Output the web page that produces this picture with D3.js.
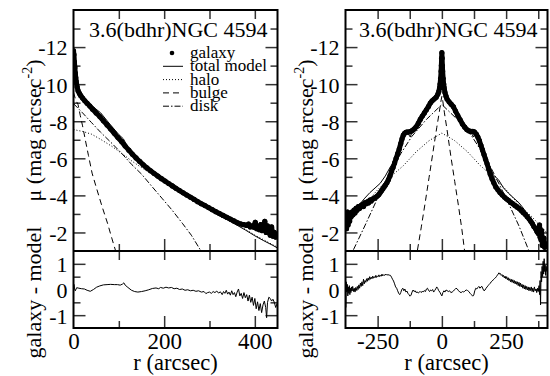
<!DOCTYPE html>
<html>
<head>
<meta charset="utf-8">
<script src="https://cdn.jsdelivr.net/npm/d3@7"></script>
<style>
  body { margin: 0; background: #fff; }
  .tick line { stroke: #333; stroke-width: 1.5; }
  .tick text { fill: #000; }
</style>
</head>
<body>
<div class="chart"></div>
<script>
// ---- data: [r (arcsec), mu] ----
const titleText = '3.6(bdhr)NGC 4594';
const legendNames = ['galaxy', 'total model', 'halo', 'bulge', 'disk'];

// left panel (radial profile)
const leftGalaxy = [
  [0, -11.8], [1, -11.6], [2, -11.2], [3, -10.9], [4, -10.6], [5, -10.35], [6, -10.15], [8, -9.85],
  [10, -9.65], [13, -9.5], [16, -9.38], [20, -9.25], [25, -9.1], [30, -8.97], [36, -8.82], [42, -8.65],
  [50, -8.45], [58, -8.25], [66, -8.02], [74, -7.8], [82, -7.58], [90, -7.35], [98, -7.12], [106, -6.9],
  [114, -6.66], [122, -6.44], [130, -6.22], [138, -6.02], [146, -5.83], [154, -5.65], [162, -5.48],
  [170, -5.33], [178, -5.18], [186, -5.04], [194, -4.9], [202, -4.77], [210, -4.64], [218, -4.51],
  [226, -4.38], [234, -4.26], [242, -4.14], [250, -4.02], [258, -3.9], [266, -3.78], [274, -3.66],
  [282, -3.55], [290, -3.45], [298, -3.34], [306, -3.23], [314, -3.12], [322, -3.02], [330, -2.92],
  [338, -2.82], [346, -2.72], [354, -2.62], [362, -2.52], [370, -2.45], [376, -2.42], [382, -2.38],
  [386, -2.45], [390, -2.3], [394, -2.36], [398, -2.28], [401, -2.55], [404, -2.2], [407, -2.3],
  [410, -2.15], [413, -2.42], [416, -2.1], [419, -2.25], [422, -2.6], [425, -2.0], [428, -2.35],
  [431, -2.05], [434, -1.85], [437, -2.3], [440, -1.8], [443, -2.0], [446, -1.75]
];
const leftModel = [
  [0, -11.75], [2, -11.15], [5, -10.3], [10, -9.6], [20, -9.28], [30, -9.0], [40, -8.85], [60, -8.45],
  [80, -7.85], [100, -7.28], [110, -7.05], [120, -6.6], [140, -5.96], [160, -5.52], [180, -5.17],
  [200, -4.85], [220, -4.55], [240, -4.22], [260, -3.9], [280, -3.56], [300, -3.22], [320, -2.93],
  [340, -2.67], [360, -2.4], [380, -2.12], [400, -1.82], [420, -1.55], [440, -1.3], [450, -1.16]
];
const leftHalo = [
  [0, -7.55], [20, -7.45], [40, -7.3], [60, -7.02], [85, -6.64], [110, -6.2], [130, -5.83], [150, -5.5],
  [175, -5.12], [200, -4.78], [240, -4.2], [280, -3.62], [320, -3.05], [360, -2.45], [400, -1.86], [450, -1.2]
];
const leftBulge = [
  [0, -9.55], [3, -9.3], [6, -9.1], [10, -8.9], [15, -8.3], [20, -7.75], [26, -7.0], [33, -6.15],
  [41, -5.2], [50, -4.45], [63, -3.4], [75, -2.5], [85, -1.65], [93, -1.0]
];
const leftDisk = [
  [0, -8.95], [20, -8.45], [40, -7.92], [60, -7.4], [85, -6.8], [105, -6.3], [129, -5.65], [150, -5.15],
  [173, -4.48], [195, -3.85], [217, -3.22], [240, -2.5], [260, -1.85], [280, -1.05]
];
const leftResid = [
  [0, -0.15], [1, 0.2], [2, 0.05], [4, -0.05], [7, 0.07], [12, 0.05], [18, 0.03], [24, 0.02], [30, -0.03],
  [37, -0.07], [44, 0.0], [51, 0.09], [58, 0.14], [66, 0.18], [74, 0.19], [82, 0.2], [90, 0.19], [97, 0.19],
  [103, 0.17], [108, 0.21], [111, 0.26], [114, 0.17], [120, 0.08], [128, -0.03], [135, -0.08], [142, -0.1],
  [150, -0.08], [158, -0.05], [166, -0.01], [174, 0.04], [182, 0.06], [188, 0.03], [192, 0.08], [198, 0.05],
  [204, 0.09], [210, 0.06], [216, 0.08], [222, 0.03], [228, 0.05], [234, 0.0], [240, 0.02], [246, -0.03],
  [252, -0.01], [258, -0.05], [264, -0.03], [270, -0.07], [276, -0.05], [282, -0.1], [288, -0.08],
  [292, -0.16], [296, -0.12], [300, -0.1], [304, -0.15], [308, -0.08], [312, -0.12], [316, -0.06],
  [320, -0.14], [324, -0.09], [328, -0.2], [331, -0.08], [334, -0.15], [337, -0.03], [340, -0.18],
  [343, -0.1], [346, -0.22], [349, -0.05], [352, -0.2], [355, -0.12], [358, -0.28], [361, -0.1],
  [364, 0.02], [367, -0.25], [370, -0.15], [373, -0.35], [376, -0.12], [379, -0.32], [382, -0.2],
  [385, -0.45], [388, -0.22], [391, -0.5], [394, -0.3], [397, -0.62], [400, -0.35], [403, -0.75],
  [406, -0.48], [409, -0.82], [412, -0.55], [415, -0.9], [418, -0.6], [421, -0.45], [424, -0.7],
  [426, -1.1], [428, -0.5], [431, -0.3], [434, -0.35], [437, -0.45], [440, -0.38], [443, -0.5],
  [446, -0.7], [449, -0.55]
];

// right panel (major-axis cut)
const rightGalaxy = [
  [-375, -2.5], [-373, -2.9], [-371, -2.2], [-369, -2.7], [-367, -3.1], [-365, -2.4], [-362, -2.8],
  [-359, -2.6], [-356, -3.0], [-353, -2.85], [-350, -3.1], [-346, -2.95], [-342, -3.2], [-338, -3.05],
  [-334, -3.3], [-330, -3.2], [-325, -3.4], [-320, -3.3], [-315, -3.45], [-310, -3.5], [-305, -3.4],
  [-300, -3.6], [-295, -3.55], [-290, -3.65], [-285, -3.6], [-280, -3.75], [-275, -3.7], [-270, -3.8],
  [-265, -3.82], [-260, -3.88], [-255, -3.92], [-250, -3.98], [-245, -4.05], [-240, -4.15], [-235, -4.25],
  [-230, -4.35], [-225, -4.45], [-220, -4.55], [-214, -4.68], [-208, -4.85], [-202, -5.05], [-196, -5.3],
  [-190, -5.5], [-184, -5.75], [-178, -6.0], [-172, -6.25], [-166, -6.5], [-160, -6.8], [-155, -7.05],
  [-150, -7.25], [-145, -7.35], [-140, -7.4], [-135, -7.42], [-128, -7.42], [-121, -7.45], [-115, -7.5],
  [-108, -7.58], [-100, -7.7], [-92, -7.88], [-84, -8.1], [-76, -8.28], [-68, -8.45], [-60, -8.62],
  [-52, -8.8], [-45, -8.98], [-38, -9.1], [-30, -9.2], [-22, -9.3], [-16, -9.45], [-12, -9.6], [-9, -9.8],
  [-7, -10.0], [-5, -10.3], [-3, -10.7], [-2, -11.0], [-1, -11.4], [0, -11.7], [1, -11.4], [2, -11.0],
  [3, -10.7], [5, -10.3], [7, -10.0], [9, -9.8], [12, -9.55], [16, -9.35], [20, -9.2], [28, -9.05],
  [36, -8.92], [45, -8.78], [53, -8.55], [62, -8.3], [71, -8.08], [80, -7.85], [89, -7.68], [97, -7.55],
  [105, -7.48], [113, -7.45], [120, -7.45], [127, -7.42], [134, -7.3], [140, -7.15], [146, -6.95],
  [152, -6.7], [158, -6.45], [164, -6.2], [170, -5.95], [176, -5.7], [182, -5.42], [188, -5.15],
  [195, -4.9], [202, -4.68], [210, -4.45], [218, -4.3], [226, -4.15], [235, -4.02], [244, -3.9],
  [252, -3.8], [260, -3.72], [268, -3.62], [276, -3.55], [284, -3.46], [292, -3.38], [300, -3.3],
  [308, -3.2], [316, -3.08], [324, -2.98], [332, -2.85], [340, -2.72], [346, -2.6], [352, -2.48],
  [358, -2.32], [364, -2.22], [370, -2.05], [375, -1.95], [380, -2.4], [382, -1.75], [386, -1.6],
  [388, -2.1], [391, -1.3], [394, -1.45], [397, -1.7], [400, -1.2], [403, -1.4]
];
const rightModel = [
  [-375, -2.5], [-355, -2.95], [-335, -3.25], [-315, -3.6], [-300, -3.85], [-280, -4.15], [-260, -4.4],
  [-240, -4.65], [-220, -5.05], [-200, -5.55], [-185, -5.85], [-170, -6.35], [-160, -6.8], [-150, -7.2],
  [-140, -7.38], [-130, -7.3], [-123, -7.15], [-115, -7.45], [-100, -7.7], [-80, -8.2], [-60, -8.6],
  [-40, -9.05], [-20, -9.4], [-10, -9.7], [-5, -10.3], [-2, -11.0], [0, -11.5], [2, -11.0], [5, -10.3],
  [10, -9.7], [20, -9.25], [40, -8.85], [60, -8.4], [80, -7.85], [100, -7.5], [115, -7.35], [123, -7.15],
  [130, -7.35], [140, -7.2], [150, -6.85], [160, -6.45], [170, -6.05], [185, -5.6], [200, -5.1],
  [220, -4.85], [240, -4.4], [260, -4.1], [280, -3.85], [300, -3.6], [320, -3.25], [340, -2.85],
  [360, -2.38], [380, -1.95], [400, -1.5], [411, -1.35]
];
const rightHalo = [
  [-375, -2.5], [-350, -2.85], [-300, -3.5], [-250, -4.3], [-200, -5.0], [-150, -5.6], [-100, -6.35],
  [-50, -6.95], [0, -7.36], [50, -6.95], [100, -6.35], [150, -5.6], [200, -5.0], [250, -4.3],
  [300, -3.5], [350, -2.85], [411, -1.95]
];
const rightBulge = [
  [-95, -1.05], [-80, -2.3], [-65, -3.6], [-50, -4.95], [-35, -6.3], [-20, -7.65], [-10, -8.5], [-4, -9.05],
  [0, -9.35], [4, -9.05], [10, -8.45], [20, -7.55], [35, -6.1], [50, -4.75], [65, -3.4], [78, -2.15], [88, -1.05]
];
const rightDisk = [
  [-344, -1.07], [-300, -2.35], [-250, -3.85], [-195, -5.38], [-160, -6.25], [-117, -7.18], [-60, -8.1],
  [0, -8.9], [60, -8.1], [117, -7.18], [160, -6.25], [195, -5.38], [250, -3.85], [300, -2.35], [337, -1.07]
];
const rightResid = [
  [-375, 0.05], [-374, -0.7], [-372, 0.3], [-370, -0.1], [-368, 0.2], [-366, -0.25], [-364, 0.1],
  [-362, -0.15], [-360, 0.15], [-358, -0.2], [-356, 0.05], [-354, -0.12], [-352, 0.1], [-350, -0.05],
  [-347, 0.12], [-344, -0.08], [-341, 0.05], [-338, -0.1], [-335, 0.08], [-332, -0.02], [-329, 0.12],
  [-326, 0.0], [-323, 0.18], [-320, 0.05], [-317, 0.25], [-314, 0.12], [-311, 0.3], [-308, 0.15],
  [-305, 0.4], [-302, 0.22], [-299, 0.35], [-296, 0.28], [-293, 0.42], [-290, 0.32], [-287, 0.45],
  [-284, 0.36], [-281, 0.5], [-278, 0.4], [-275, 0.48], [-272, 0.42], [-269, 0.52], [-266, 0.44],
  [-263, 0.5], [-260, 0.46], [-257, 0.55], [-254, 0.47], [-251, 0.53], [-248, 0.5], [-245, 0.57],
  [-242, 0.5], [-239, 0.55], [-236, 0.52], [-233, 0.6], [-230, 0.53], [-226, 0.58], [-222, 0.55],
  [-218, 0.6], [-214, 0.56], [-210, 0.58], [-205, 0.56], [-200, 0.55], [-196, 0.48], [-192, 0.4],
  [-188, 0.33], [-184, 0.22], [-180, 0.1], [-176, 0.05], [-172, -0.05], [-168, -0.15], [-164, -0.2],
  [-160, -0.12], [-156, 0.0], [-152, 0.05], [-148, -0.05], [-144, 0.02], [-140, -0.1], [-136, -0.06],
  [-132, -0.15], [-128, -0.2], [-124, -0.26], [-120, -0.22], [-116, -0.1], [-112, -0.02], [-108, -0.08],
  [-104, -0.05], [-100, -0.12], [-96, -0.09], [-92, -0.14], [-88, -0.1], [-84, -0.08], [-80, -0.12],
  [-76, -0.06], [-72, -0.1], [-68, -0.04], [-64, -0.08], [-60, 0.02], [-56, 0.05], [-52, -0.03],
  [-48, -0.08], [-44, -0.02], [-40, -0.05], [-36, 0.0], [-32, -0.1], [-28, -0.04], [-24, 0.02],
  [-20, 0.1], [-16, 0.04], [-12, -0.05], [-8, -0.1], [-4, -0.18], [0, -0.25], [4, -0.12], [8, -0.05],
  [12, -0.1], [16, -0.02], [20, -0.04], [25, -0.08], [30, -0.05], [35, -0.12], [40, -0.1], [45, -0.06],
  [50, 0.0], [55, 0.05], [60, 0.02], [65, -0.05], [70, -0.1], [75, -0.12], [80, -0.08], [85, -0.1],
  [90, -0.05], [95, -0.02], [100, -0.04], [105, -0.08], [110, -0.15], [115, -0.2], [120, -0.26],
  [124, -0.22], [128, -0.05], [132, 0.05], [136, 0.02], [140, 0.08], [144, 0.12], [148, 0.05],
  [152, 0.1], [156, 0.12], [160, 0.02], [164, -0.05], [168, -0.02], [172, 0.05], [176, 0.1], [180, 0.15],
  [184, 0.2], [188, 0.24], [192, 0.3], [196, 0.33], [200, 0.38], [204, 0.42], [208, 0.45], [212, 0.5],
  [216, 0.56], [219, 0.6], [222, 0.65], [225, 0.6], [228, 0.62], [231, 0.55], [234, 0.58], [237, 0.5],
  [240, 0.55], [243, 0.45], [246, 0.52], [249, 0.42], [252, 0.5], [255, 0.38], [258, 0.46], [261, 0.35],
  [264, 0.42], [267, 0.3], [270, 0.4], [273, 0.28], [276, 0.38], [279, 0.25], [282, 0.35], [285, 0.22],
  [288, 0.32], [291, 0.2], [294, 0.3], [297, 0.15], [300, 0.28], [303, 0.12], [306, 0.25], [309, 0.1],
  [312, 0.2], [315, 0.05], [318, 0.18], [321, 0.02], [324, 0.15], [327, 0.0], [330, 0.12], [333, -0.02],
  [336, 0.1], [339, -0.05], [342, 0.08], [345, -0.04], [348, 0.1], [351, -0.08], [354, 0.05], [357, -0.1],
  [360, 0.1], [363, -0.05], [366, 0.02], [369, -0.12], [372, 0.05], [375, -0.08], [378, 0.15],
  [380, -0.2], [382, 0.35], [384, -0.6], [386, 0.7], [388, 0.3], [390, 0.9], [392, 0.5], [394, 1.1],
  [396, 0.6], [398, 1.2], [400, 0.7], [402, 0.95], [404, 0.55], [406, 0.9], [408, 0.7]
];

// ---- layout ----
const width = 550;
const height = 376;
const yTop = 10, yMid = 251, yBottom = 328;
const serif = '"Liberation Serif", "Times New Roman", "DejaVu Serif", serif';

const panels = [
  {
    x0: 73.5, x1: 277.5, xDomain: [0, 450],
    xMajor: [0, 200, 400], xMinor: [100, 300],
    galaxy: leftGalaxy, model: leftModel, halo: leftHalo, bulge: leftBulge, disk: leftDisk,
    resid: leftResid, legend: true
  },
  {
    x0: 345.5, x1: 547.5, xDomain: [-375, 411],
    xMajor: [-250, 0, 250], xMinor: [-375, -125, 125, 375],
    galaxy: rightGalaxy, model: rightModel, halo: rightHalo, bulge: rightBulge, disk: rightDisk,
    resid: rightResid, legend: false
  }
];

const muMajor = [-12, -10, -8, -6, -4, -2];
const muMinor = [-13, -11, -9, -7, -5, -3];
const resMajor = [-1, 0, 1];
const resMinor = [-0.5, 0.5];

const svg = d3.select('.chart')
  .append('svg')
  .attr('width', width)
  .attr('height', height);

const yMain = d3.scaleLinear().domain([-1, -14]).range([yMid, yTop]);
const yRes = d3.scaleLinear().domain([-1.5, 1.5]).range([yBottom, yMid]);

// inward ticks on all four sides
function frameAxes(g, x, y, majorX, minorX, majorY, minorY, y0, y1, showX) {
  const fmt = d => String(d);
  g.append('g').attr('transform', `translate(${x.range()[0]},0)`)
    .call(d3.axisLeft(y).tickValues(majorY).tickSize(-12).tickPadding(6).tickFormat(fmt))
    .call(a => a.selectAll('text').attr('font-size', 22).attr('dy', '0.36em'));
  g.append('g').attr('transform', `translate(${x.range()[0]},0)`)
    .call(d3.axisLeft(y).tickValues(minorY).tickSize(-7).tickFormat(''));
  g.append('g').attr('transform', `translate(${x.range()[1]},0)`)
    .call(d3.axisRight(y).tickValues(majorY).tickSize(-12).tickFormat(''));
  g.append('g').attr('transform', `translate(${x.range()[1]},0)`)
    .call(d3.axisRight(y).tickValues(minorY).tickSize(-7).tickFormat(''));
  g.append('g').attr('transform', `translate(0,${y0})`)
    .call(d3.axisTop(x).tickValues(majorX.concat(minorX)).tickSize(-9).tickFormat(''));
  const b = g.append('g').attr('transform', `translate(0,${y1})`)
    .call(d3.axisBottom(x).tickValues(majorX).tickSize(-12).tickPadding(5).tickFormat(showX ? fmt : ''));
  b.selectAll('text').attr('font-size', 23);
  g.append('g').attr('transform', `translate(0,${y1})`)
    .call(d3.axisBottom(x).tickValues(minorX).tickSize(-7).tickFormat(''));
  g.selectAll('.domain').remove();
  g.selectAll('.tick line').filter(d => d === x.domain()[0] || d === x.domain()[1]).remove();
}

panels.forEach((p, i) => {
  const x = d3.scaleLinear().domain(p.xDomain).range([p.x0, p.x1]);
  const g = svg.append('g');

  const clipId = 'clip' + i;
  const defs = svg.append('defs');
  defs.append('clipPath').attr('id', clipId + 'a')
    .append('rect').attr('x', p.x0).attr('y', yTop).attr('width', p.x1 - p.x0).attr('height', yMid - yTop);
  defs.append('clipPath').attr('id', clipId + 'b')
    .append('rect').attr('x', p.x0).attr('y', yMid).attr('width', p.x1 - p.x0).attr('height', yBottom - yMid);

  frameAxes(g, x, yMain, p.xMajor, p.xMinor, muMajor, muMinor, yTop, yMid, false);
  frameAxes(g, x, yRes, p.xMajor, p.xMinor, resMajor, resMinor, yMid, yBottom, true);

  const line = d3.line().x(d => x(d[0])).y(d => yMain(d[1]));
  const plot = g.append('g').attr('clip-path', `url(#${clipId}a)`);

  const comps = [
    { data: p.halo, dash: '1,2' },
    { data: p.bulge, dash: '6,4' },
    { data: p.disk, dash: '6,2,1.5,2' }
  ];
  comps.forEach(c => {
    plot.append('path').datum(c.data)
      .attr('d', line).attr('fill', 'none')
      .attr('stroke', '#000').attr('stroke-width', 1)
      .attr('stroke-dasharray', c.dash);
  });

  // galaxy: thick band of points
  plot.append('path').datum(p.galaxy)
    .attr('d', line).attr('fill', 'none')
    .attr('stroke', '#000').attr('stroke-width', 5)
    .attr('stroke-linejoin', 'round').attr('stroke-linecap', 'round');
  plot.selectAll('circle.gal').data(p.galaxy).enter()
    .append('circle').attr('class', 'gal')
    .attr('cx', d => x(d[0])).attr('cy', d => yMain(d[1])).attr('r', 2.6)
    .attr('fill', '#000');

  plot.append('path').datum(p.model)
    .attr('d', line).attr('fill', 'none')
    .attr('stroke', '#000').attr('stroke-width', 1);

  // residuals
  g.append('g').attr('clip-path', `url(#${clipId}b)`)
    .append('path').datum(p.resid)
    .attr('d', d3.line().x(d => x(d[0])).y(d => yRes(d[1])))
    .attr('fill', 'none').attr('stroke', '#000').attr('stroke-width', 1);

  // frames
  g.append('rect').attr('x', p.x0).attr('y', yTop)
    .attr('width', p.x1 - p.x0).attr('height', yBottom - yTop)
    .attr('fill', 'none').attr('stroke', '#000').attr('stroke-width', 2);
  g.append('line').attr('x1', p.x0).attr('x2', p.x1).attr('y1', yMid).attr('y2', yMid)
    .attr('stroke', '#000').attr('stroke-width', 2);

  // title
  g.append('text').attr('x', p.x1 - 10).attr('y', 37)
    .attr('text-anchor', 'end').attr('font-size', 22)
    .text(titleText);

  // axis labels
  const lx = p.x0 - 33;
  const mu = g.append('text')
    .attr('transform', `translate(${lx},${(yTop + yMid) / 2}) rotate(-90)`)
    .attr('text-anchor', 'middle').attr('font-size', 22);
  mu.append('tspan').text('\u03bc (mag arcsec');
  mu.append('tspan').attr('font-size', 14).attr('dy', -9).text('-2');
  mu.append('tspan').attr('dy', 9).text(')');

  g.append('text')
    .attr('transform', `translate(${lx},${(yMid + yBottom) / 2 + 3}) rotate(-90)`)
    .attr('text-anchor', 'middle').attr('font-size', 22)
    .text('galaxy - model');

  g.append('text').attr('x', (p.x0 + p.x1) / 2).attr('y', 370)
    .attr('text-anchor', 'middle').attr('font-size', 22.5)
    .text('r (arcsec)');

  if (p.legend) {
    const lg = g.append('g');
    const dashes = [null, null, '1,2', '6,4', '6,2,1.5,2'];
    legendNames.forEach((name, k) => {
      const by = 58 + k * 13.3;
      if (k === 0) {
        lg.append('circle').attr('cx', 172).attr('cy', by - 5).attr('r', 2.3).attr('fill', '#000');
      } else {
        lg.append('line').attr('x1', 163).attr('x2', 183).attr('y1', by - 5).attr('y2', by - 5)
          .attr('stroke', '#000').attr('stroke-width', 1)
          .attr('stroke-dasharray', dashes[k]);
      }
      lg.append('text').attr('x', 190).attr('y', by).attr('font-size', 17).text(name);
    });
  }
});

// one serif face for every label, axis groups included
svg.selectAll('g').filter(function () { return this.hasAttribute('font-family'); })
  .attr('font-family', serif);
svg.selectAll('text').attr('font-family', serif);
</script>
</body>
</html>
